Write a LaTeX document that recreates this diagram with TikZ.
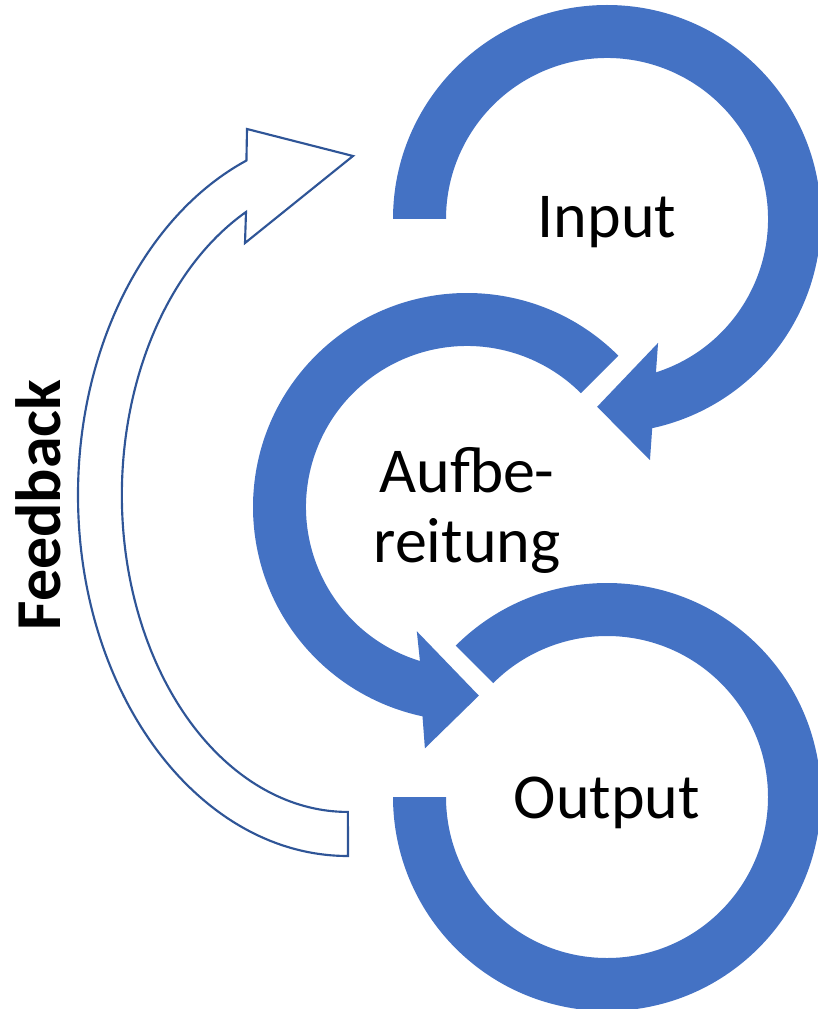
\documentclass[tikz,border=0pt]{standalone}
\usepackage{fontspec}
\setmainfont{Carlito}
\begin{document}
\begin{tikzpicture}[x=0.75pt,y=0.75pt,yscale=-1,xscale=1,
  band/.style={fill={rgb, 255:red, 68; green, 114; blue, 196 }},
  fbarrow/.style={draw={rgb, 255:red, 47; green, 85; blue, 151 },line width=1.6pt,fill=white},
  lbl/.style={inner sep=0pt,font=\fontsize{48}{52}\selectfont}]
\useasboundingbox (0,0) rectangle (817,1009);

%Shape: Circular Arrow (Input)
\begin{scope}[shift={(607,219)}]
\fill[band] (180:214) arc[start angle=180,end angle=437.8,radius=214] -- (79.9:245) -- (93:188) -- (67.6:134) -- (72.3:161) arc[start angle=72.3,end angle=-180,radius=161] -- cycle ;
\end{scope}
%Shape: Circular Arrow (Aufbereitung)
\begin{scope}[shift={(467,507)}]
\fill[band] (-45:214) arc[start angle=-45,end angle=-258,radius=214] -- (-260.1:245) -- (-273.6:189) -- (-248:134) -- (-253:161) arc[start angle=-253,end angle=-45,radius=161] -- cycle ;
\end{scope}
%Shape: Block Arc (Output)
\begin{scope}[shift={(607,797)}]
\fill[band] (-135:214) arc[start angle=-135,end angle=180,radius=214] -- (180:161) arc[start angle=180,end angle=-135,radius=161] -- cycle ;
\end{scope}
%Shape: Curved Right Arrow (Feedback)
\begin{scope}[shift={(348,495)}]
\draw[fbarrow] (0,361) arc[start angle=90,end angle=247.9,x radius=270,y radius=361] -- (-101,-366) -- (5,-339) -- (-103,-252) -- (-102,-283) arc[start angle=243.2,end angle=90,x radius=226,y radius=317] -- cycle ;
\end{scope}

% Text Node
\node[lbl,anchor=base] (input) at (607,238) {Input};
% Text Node
\node[lbl,anchor=base,align=center] (aufbereitung) at (467,562) {Aufbe-\\reitung};
% Text Node
\node[lbl,anchor=base] (output) at (607,818) {Output};
% Text Node
\node[lbl,anchor=base,rotate=90,font=\fontsize{48}{52}\selectfont\bfseries] (feedback) at (60,505) {Feedback};

\end{tikzpicture}
\end{document}
